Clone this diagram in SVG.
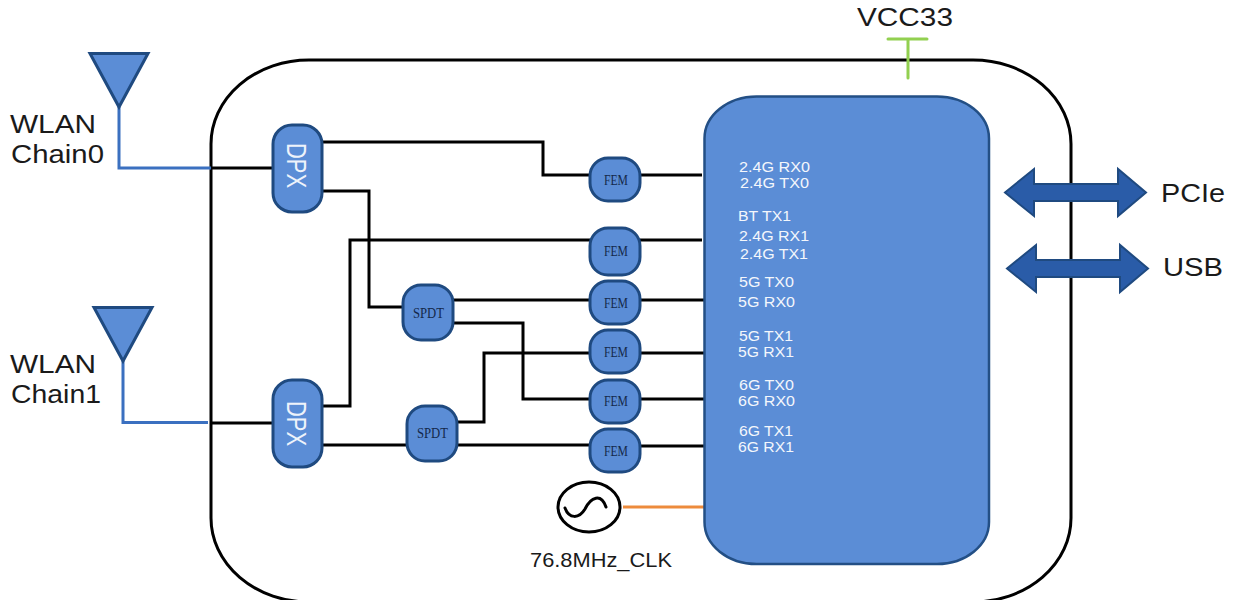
<svg xmlns="http://www.w3.org/2000/svg" width="1242" height="600" viewBox="0 0 1242 600">
<style>
.n{fill:#5b8dd6;stroke:#1f4a80;stroke-width:3}
.w{fill:none;stroke:#000;stroke-width:3}
.b{fill:none;stroke:#3b70c0;stroke-width:3}
.a{fill:#2a5ca8;stroke:#1f4a80;stroke-width:2}
text{font-family:"Liberation Sans",Arial,sans-serif}
.k{fill:#1a1a1a;font-size:26px}
.c{fill:#f4f7fc;font-size:14.500px}
.s{font-family:"Liberation Serif","Times New Roman",serif;fill:#14294a;font-size:14px}
.d{fill:#eef3fb;font-size:22px}
</style>
<rect id="board" x="211" y="60" width="860" height="542" rx="98" ry="84" fill="none" stroke="#000" stroke-width="3"/>
<g id="connectors">
<path class="b" d="M119 107V168H211"/>
<path class="b" d="M123 361V422.500H208"/>
<path class="w" d="M211 168H273"/>
<path class="w" d="M211 423H273"/>
<path class="w" d="M321 142H543V175H590"/>
<path class="w" d="M321 191H369V307H403"/>
<path class="w" d="M321 406H350V240H590"/>
<path class="w" d="M321 445H407"/>
<path class="w" d="M452 300H590"/>
<path class="w" d="M452 323H523V399H590"/>
<path class="w" d="M456 422H484V353H590"/>
<path class="w" d="M456 445H590"/>
<path class="w" d="M640 175H702"/>
<path class="w" d="M640 240H702"/>
<path class="w" d="M640 300H706"/>
<path class="w" d="M640 353H706"/>
<path class="w" d="M640 399H706"/>
<path class="w" d="M641 446H707"/>
<path d="M623 507H706" fill="none" stroke="#ed8b3c" stroke-width="3"/>
<path d="M888 39H927M908 39V78" fill="none" stroke="#92d050" stroke-width="3" stroke-linecap="round"/>
</g>
<g id="antenna0"><path class="n" d="M90 53.500H148L119 107Z"/>
<text class="k" x="10" y="133" textLength="86" lengthAdjust="spacingAndGlyphs">WLAN</text>
<text class="k" x="11" y="163" textLength="93" lengthAdjust="spacingAndGlyphs">Chain0</text></g>
<g id="antenna1"><path class="n" d="M94 307.500H152L123 361Z"/>
<text class="k" x="10" y="373" textLength="86" lengthAdjust="spacingAndGlyphs">WLAN</text>
<text class="k" x="11" y="403" textLength="90" lengthAdjust="spacingAndGlyphs">Chain1</text></g>
<g id="dpx0"><rect class="n" x="273" y="125" width="49" height="87" rx="19" ry="19"/>
<text class="d" transform="translate(287 143) rotate(90) scale(1 1.270)">DPX</text></g>
<g id="dpx1"><rect class="n" x="273" y="380" width="49" height="87" rx="19" ry="19"/>
<text class="d" transform="translate(287 401) rotate(90) scale(1 1.270)">DPX</text></g>
<g id="spdt0"><rect class="n" x="403" y="285" width="50" height="55" rx="18" ry="18"/>
<text class="s" x="413" y="318" textLength="31" lengthAdjust="spacingAndGlyphs">SPDT</text></g>
<g id="spdt1"><rect class="n" x="407" y="406" width="50" height="55" rx="18" ry="18"/>
<text class="s" x="417" y="438" textLength="31" lengthAdjust="spacingAndGlyphs">SPDT</text></g>
<g id="fem0"><rect class="n" x="590" y="158" width="50" height="43" rx="18" ry="18"/><text class="s" x="604" y="185" textLength="24" lengthAdjust="spacingAndGlyphs">FEM</text></g>
<g id="fem1"><rect class="n" x="590" y="228" width="50" height="47" rx="18" ry="18"/><text class="s" x="604" y="256" textLength="24" lengthAdjust="spacingAndGlyphs">FEM</text></g>
<g id="fem2"><rect class="n" x="590" y="281" width="50" height="43" rx="18" ry="18"/><text class="s" x="604" y="308" textLength="24" lengthAdjust="spacingAndGlyphs">FEM</text></g>
<g id="fem3"><rect class="n" x="590" y="330" width="50" height="43" rx="18" ry="18"/><text class="s" x="604" y="357" textLength="24" lengthAdjust="spacingAndGlyphs">FEM</text></g>
<g id="fem4"><rect class="n" x="590" y="380" width="50" height="43" rx="18" ry="18"/><text class="s" x="604" y="406" textLength="24" lengthAdjust="spacingAndGlyphs">FEM</text></g>
<g id="fem5"><rect class="n" x="590" y="429" width="50" height="43" rx="18" ry="18"/><text class="s" x="604" y="456" textLength="24" lengthAdjust="spacingAndGlyphs">FEM</text></g>
<g id="chip"><rect x="704.500" y="96.500" width="284.500" height="467.500" rx="52" ry="42" fill="#5b8dd6" stroke="#234f85" stroke-width="2.500"/>
<text class="c" x="739" y="172" textLength="71" lengthAdjust="spacingAndGlyphs">2.4G RX0</text>
<text class="c" x="740" y="188" textLength="69" lengthAdjust="spacingAndGlyphs">2.4G TX0</text>
<text class="c" x="738" y="221" textLength="53" lengthAdjust="spacingAndGlyphs">BT TX1</text>
<text class="c" x="739" y="241" textLength="70" lengthAdjust="spacingAndGlyphs">2.4G RX1</text>
<text class="c" x="740" y="259" textLength="68" lengthAdjust="spacingAndGlyphs">2.4G TX1</text>
<text class="c" x="739" y="287" textLength="55" lengthAdjust="spacingAndGlyphs">5G TX0</text>
<text class="c" x="738" y="307" textLength="57" lengthAdjust="spacingAndGlyphs">5G RX0</text>
<text class="c" x="739" y="341" textLength="54" lengthAdjust="spacingAndGlyphs">5G TX1</text>
<text class="c" x="738" y="357" textLength="56" lengthAdjust="spacingAndGlyphs">5G RX1</text>
<text class="c" x="739" y="390" textLength="55" lengthAdjust="spacingAndGlyphs">6G TX0</text>
<text class="c" x="738" y="406" textLength="57" lengthAdjust="spacingAndGlyphs">6G RX0</text>
<text class="c" x="739" y="436" textLength="54" lengthAdjust="spacingAndGlyphs">6G TX1</text>
<text class="c" x="738" y="452" textLength="56" lengthAdjust="spacingAndGlyphs">6G RX1</text></g>
<g id="clock"><ellipse cx="589" cy="507" rx="31" ry="25" fill="#fff" stroke="#000" stroke-width="3"/>
<path d="M565 508C569 519 579 519 585 509C591 497 601 493 606 507" fill="none" stroke="#000" stroke-width="3" stroke-linecap="round"/>
<text x="530" y="567" fill="#1a1a1a" font-size="20" textLength="142" lengthAdjust="spacingAndGlyphs">76.8MHz_CLK</text></g>
<g id="vcc"><text class="k" x="857" y="26" textLength="96" lengthAdjust="spacingAndGlyphs">VCC33</text></g>
<g id="pcie"><path class="a" d="M1005 192.500L1034 169V184H1118V169L1146 192.500L1118 216V201H1034V216Z"/>
<text class="k" x="1161" y="202" textLength="64" lengthAdjust="spacingAndGlyphs">PCIe</text></g>
<g id="usb"><path class="a" d="M1007 268.500L1036 245V260H1120V245L1148 268.500L1120 292V277H1036V292Z"/>
<text class="k" x="1163" y="276" textLength="60" lengthAdjust="spacingAndGlyphs">USB</text></g>
</svg>
